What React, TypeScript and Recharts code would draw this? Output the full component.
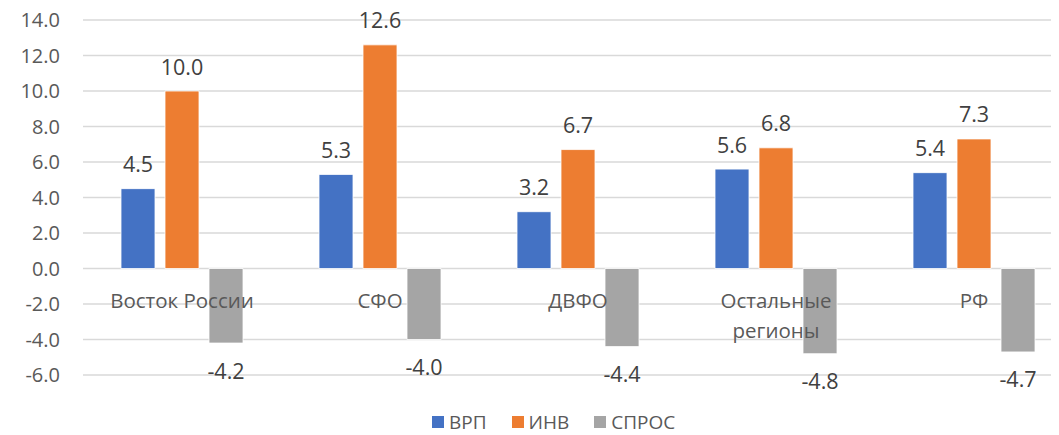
// growth by region chart

import React from 'react';
import {
  BarChart,
  Bar,
  XAxis,
  YAxis,
  CartesianGrid,
  Legend,
  LabelList,
} from 'recharts';

const regions = ['Восток России', 'СФО', 'ДВФО', 'Остальные регионы', 'РФ'];
const vrp = [4.5, 5.3, 3.2, 5.6, 5.4];
const inv = [10.0, 12.6, 6.7, 6.8, 7.3];
const spros = [-4.2, -4.0, -4.4, -4.8, -4.7];
const yTicks = [-6, -4, -2, 0, 2, 4, 6, 8, 10, 12, 14];

const series = [
  { key: 'vrp', name: 'ВРП', color: '#4472C4' },
  { key: 'inv', name: 'ИНВ', color: '#ED7D31' },
  { key: 'spros', name: 'СПРОС', color: '#A5A5A5' },
];

const data = regions.map((name, i) => ({
  name,
  vrp: vrp[i],
  inv: inv[i],
  spros: spros[i],
}));

const FONT = '"Open Sans", sans-serif';
const VIEW_W = 1059;
const CHART_W = 1073;
const CHART_H = 435;
const TOP = 20;
const PLOT_H = 355;
const Y_MIN = -6;
const Y_MAX = 14;
const ZERO_Y = TOP + (PLOT_H * Y_MAX) / (Y_MAX - Y_MIN);

const CategoryTick = (props: any) => {
  const { x, payload } = props;
  const words = String(payload.value) === 'Остальные регионы'
    ? ['Остальные', 'регионы']
    : [String(payload.value)];
  return (
    <g>
      {words.map((w, i) => (
        <text
          key={i}
          x={x}
          y={ZERO_Y + 31 + i * 30}
          textAnchor="middle"
          dominantBaseline="central"
          fontFamily={FONT}
          fontSize={20.5}
          fill="#595959"
        >
          {w}
        </text>
      ))}
    </g>
  );
};

const ValueLabel = (props: any) => {
  const { x, y, width, height, value } = props;
  const top = Math.min(y, y + height);
  const bottom = Math.max(y, y + height);
  const cy = value >= 0 ? top - 25 : bottom + 27;
  return (
    <text
      x={x + width / 2}
      y={cy}
      textAnchor="middle"
      dominantBaseline="central"
      fontFamily={FONT}
      fontSize={21.5}
      fill="#404040"
    >
      {Number(value).toFixed(1)}
    </text>
  );
};

const LegendContent = () => (
  <div
    style={{
      display: 'flex',
      paddingTop: 7,
      paddingLeft: 432,
      fontFamily: FONT,
      fontSize: 19,
      lineHeight: '20px',
      color: '#595959',
    }}
  >
    {series.map((s) => (
      <div key={s.key} style={{ display: 'flex', alignItems: 'center', marginRight: 25 }}>
        <span style={{ width: 12, height: 12, background: s.color, marginRight: 5 }} />
        <span>{s.name}</span>
      </div>
    ))}
  </div>
);

const App = () => {
  return (
    <div style={{ marginLeft: -8, marginTop: -8, width: VIEW_W, height: CHART_H, overflow: 'hidden' }}>
      <BarChart
        width={CHART_W}
        height={CHART_H}
        data={data}
        margin={{ top: TOP, right: 0, left: 0, bottom: 0 }}
        barSize={34}
        barGap={10}
      >
        <CartesianGrid vertical={false} stroke="#d9d9d9" strokeWidth={1.3} />
        <YAxis
          width={83}
          domain={[Y_MIN, Y_MAX]}
          ticks={yTicks}
          allowDataOverflow
          axisLine={false}
          tickLine={false}
          tickSize={0}
          tickMargin={23}
          tickFormatter={(v: number) => v.toFixed(1)}
          tick={{ fontFamily: FONT, fontSize: 20, fill: '#595959' }}
        />
        {series.map((s) => (
          <Bar
            key={s.key}
            dataKey={s.key}
            name={s.name}
            fill={s.color}
            stroke="#ffffff"
            strokeWidth={0.8}
            isAnimationActive={false}
          >
            <LabelList dataKey={s.key} content={ValueLabel} />
          </Bar>
        ))}
        <XAxis
          dataKey="name"
          height={30}
          axisLine={false}
          tickLine={false}
          interval={0}
          tick={<CategoryTick />}
        />
        <Legend
          verticalAlign="bottom"
          align="left"
          width={VIEW_W}
          height={30}
          content={<LegendContent />}
        />
      </BarChart>
    </div>
  );
};

export default App;
